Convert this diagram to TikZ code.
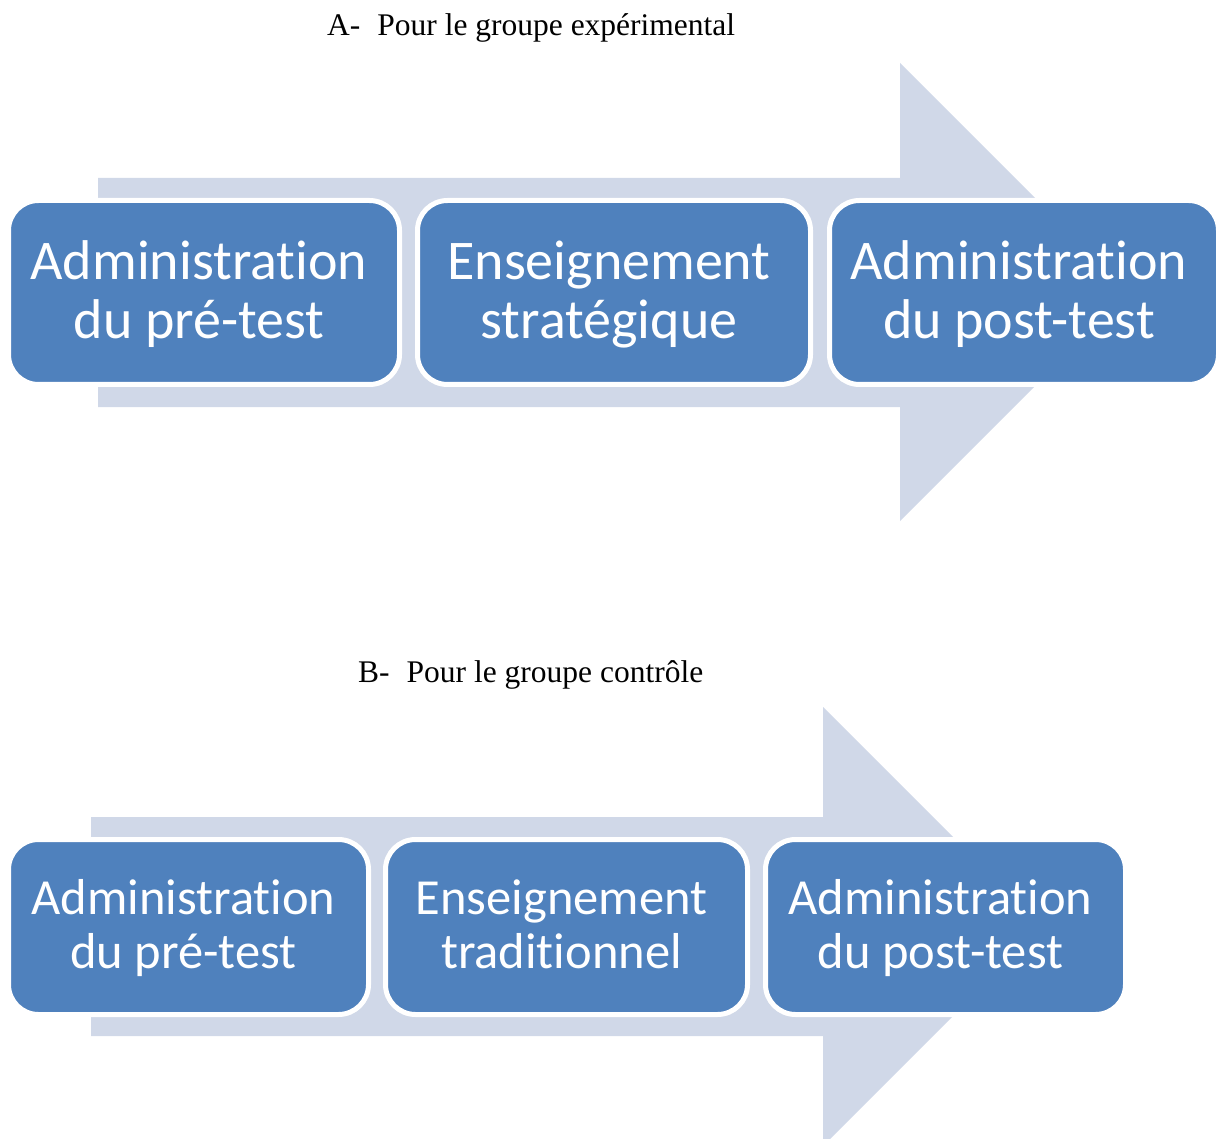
\documentclass[tikz,border=0pt]{standalone}
\usepackage{fontspec}
\setmainfont{Liberation Serif}
\newfontfamily\calib[Ligatures=NoCommon]{Carlito}
\definecolor{boxblue}{HTML}{4F81BD}
\definecolor{arrowgrey}{HTML}{D0D8E8}
\newcommand{\boxtext}[3]{\raisebox{#1}[\height][\depth]{\begin{tabular}{@{}c@{\hspace{10pt}}}#2\\#3\end{tabular}}}
\tikzset{
  stepbox/.style={rectangle, rounded corners=30pt, fill=boxblue, draw=white, line width=5pt,
    inner sep=0pt, align=center, text=white},
  bigtxt/.style={font=\calib\fontsize{56}{59}\selectfont},
  smalltxt/.style={font=\calib\fontsize{50.5}{54}\selectfont},
  bigarrow/.style={fill=arrowgrey, draw=none},
  titletxt/.style={anchor=base west, inner sep=0pt, font=\fontsize{31.5}{36}\selectfont}
}
\begin{document}
\begin{tikzpicture}[x=1pt,y=-1pt]
\useasboundingbox (0,0) rectangle (1226,1139);
\clip (0,0) rectangle (1226,1139);
\fill[white] (0,0) rectangle (1226,1139);

% Titles
\node[titletxt] (ta) at (327,36) {A-\hspace{17pt}Pour le groupe expérimental};
\node[titletxt] (tb) at (358,682) {B-\hspace{17pt}Pour le groupe contrôle};

% Top arrow
\fill[bigarrow] (98,178) -- (900,178) -- (900,63) -- (1129,292) -- (900,521) -- (900,407) -- (98,407) -- cycle;
% Bottom arrow
\fill[bigarrow] (91,817) -- (823,817) -- (823,707) -- (1042.5,926.5) -- (823,1146) -- (823,1036) -- (91,1036) -- cycle;

% Top boxes
\node[stepbox, bigtxt, minimum width=391pt, minimum height=184pt] (a1) at (204,292.5) {\boxtext{-5pt}{Administration}{du pré-test}};
\node[stepbox, bigtxt, minimum width=393pt, minimum height=184pt] (a2) at (614,292.5) {\boxtext{-5pt}{Enseignement}{stratégique}};
\node[stepbox, bigtxt, minimum width=389pt, minimum height=184pt] (a3) at (1024,292.5) {\boxtext{-5pt}{Administration}{du post-test}};

% Bottom boxes
\node[stepbox, smalltxt, minimum width=360pt, minimum height=175pt] (b1) at (188.5,927) {\boxtext{-4pt}{Administration}{du pré-test}};
\node[stepbox, smalltxt, minimum width=362pt, minimum height=175pt] (b2) at (566.5,927) {\boxtext{-4pt}{Enseignement}{traditionnel}};
\node[stepbox, smalltxt, minimum width=360pt, minimum height=175pt] (b3) at (945.5,927) {\boxtext{-4pt}{Administration}{du post-test}};
\end{tikzpicture}
\end{document}
